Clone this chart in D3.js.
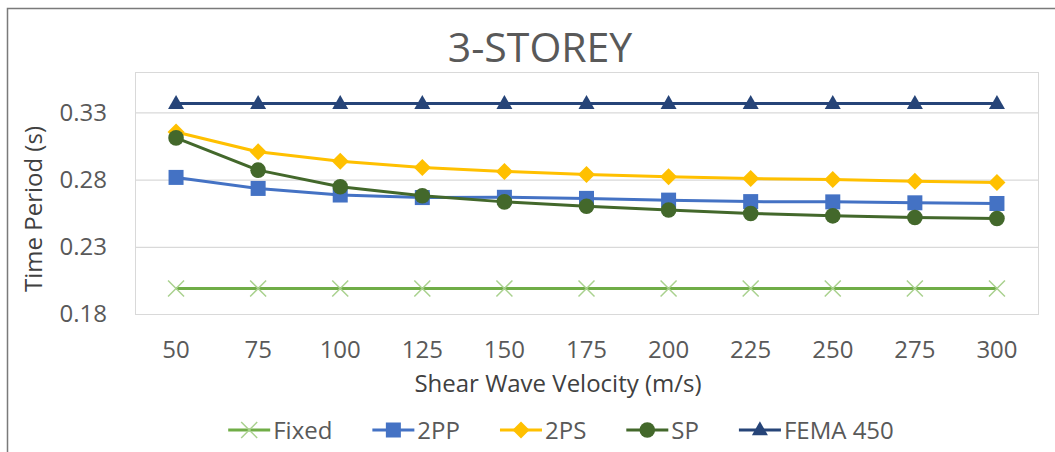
<!DOCTYPE html>
<html>
<head>
<meta charset="utf-8">
<script src="https://cdn.jsdelivr.net/npm/d3@7"></script>
<style>
  html, body { margin: 0; padding: 0; background: #fff; }
  svg { display: block; font-family: "Open Sans", sans-serif; }
</style>
</head>
<body>
<svg id="chart" width="1055" height="452"></svg>
<script>
// ---- data ----
const categories = ["50", "75", "100", "125", "150", "175", "200", "225", "250", "275", "300"];
const fixedVals = [0.199, 0.199, 0.199, 0.199, 0.199, 0.199, 0.199, 0.199, 0.199, 0.199, 0.199];
const pp2Vals   = [0.2816, 0.2734, 0.2685, 0.2666, 0.2668, 0.2660, 0.2647, 0.2636, 0.2634, 0.2627, 0.2622];
const ps2Vals   = [0.3154, 0.3006, 0.2937, 0.2890, 0.2860, 0.2838, 0.2820, 0.2808, 0.2800, 0.2788, 0.2778];
const spVals    = [0.3110, 0.2870, 0.2746, 0.2680, 0.2634, 0.2602, 0.2573, 0.2548, 0.2530, 0.2518, 0.2510];
const femaVals  = [0.3365, 0.3365, 0.3365, 0.3365, 0.3365, 0.3365, 0.3365, 0.3365, 0.3365, 0.3365, 0.3365];
const seriesNames = ["Fixed", "2PP", "2PS", "SP", "FEMA 450"];
const yTicks = [0.18, 0.23, 0.28, 0.33];
const title = "3-STOREY";
const xTitle = "Shear Wave Velocity (m/s)";
const yTitle = "Time Period (s)";

const series = [
  { name: seriesNames[0], values: fixedVals, color: "#70AD47", mcolor: "#A9D18E", marker: "x" },
  { name: seriesNames[1], values: pp2Vals,   color: "#4472C4", mcolor: "#4472C4", marker: "square" },
  { name: seriesNames[2], values: ps2Vals,   color: "#FFC000", mcolor: "#FFC000", marker: "diamond" },
  { name: seriesNames[3], values: spVals,    color: "#43682B", mcolor: "#43682B", marker: "circle" },
  { name: seriesNames[4], values: femaVals,  color: "#264478", mcolor: "#264478", marker: "triangle" }
];

// ---- layout ----
const svg = d3.select("#chart");
const plot = { left: 135, right: 1038, top: 72, bottom: 314 };
const textColor = "#595959";
const fs = 24;

svg.append("rect").attr("width", 1055).attr("height", 452).attr("fill", "#fff");
// outer chart border (only top/left visible in frame)
svg.append("rect").attr("x", 7.5).attr("y", 8.5).attr("width", 1060).attr("height", 460)
  .attr("fill", "none").attr("stroke", "#7a7a7a").attr("stroke-width", 1.5);

const x = d3.scaleBand().domain(categories).range([plot.left, plot.right]).padding(0);
const y = d3.scaleLinear().domain([0.18, 0.36]).range([plot.bottom, plot.top]);
const cx = c => x(c) + x.bandwidth() / 2;

// plot area border
svg.append("rect").attr("x", plot.left + 0.5).attr("y", plot.top + 0.5)
  .attr("width", plot.right - plot.left).attr("height", plot.bottom - plot.top)
  .attr("fill", "none").attr("stroke", "#d9d9d9").attr("stroke-width", 1);

// gridlines + y axis
const yAxis = d3.axisLeft(y).tickValues(yTicks).tickSize(-(plot.right - plot.left)).tickPadding(28)
  .tickFormat(d3.format(".2f"));
const gy = svg.append("g").attr("transform", `translate(${plot.left},0)`).call(yAxis);
gy.select(".domain").remove();
gy.selectAll(".tick line").attr("stroke", "#d9d9d9").attr("stroke-width", 1.2);
gy.selectAll(".tick text").attr("fill", textColor).attr("font-size", fs).attr("font-family", "Open Sans");

// x axis
const xAxis = d3.axisBottom(x).tickSize(0).tickPadding(27);
const gx = svg.append("g").attr("transform", `translate(0,${plot.bottom})`).call(xAxis);
gx.select(".domain").remove();
gx.selectAll(".tick text").attr("fill", textColor).attr("font-size", fs).attr("font-family", "Open Sans");

// titles
svg.append("text").attr("x", 540).attr("y", 62).attr("text-anchor", "middle")
  .attr("fill", textColor).attr("font-size", 41).text(title);
svg.append("text").attr("x", 558).attr("y", 392).attr("text-anchor", "middle")
  .attr("fill", "#404040").attr("font-size", fs).text(xTitle);
svg.append("text").attr("transform", "translate(42,209) rotate(-90)").attr("text-anchor", "middle")
  .attr("fill", "#404040").attr("font-size", fs).text(yTitle);

// markers
function drawMarker(g, type, px, py, color) {
  if (type === "x") {
    const r = 8;
    g.append("path").attr("d", `M${px - r},${py - r}L${px + r},${py + r}M${px - r},${py + r}L${px + r},${py - r}`)
      .attr("stroke", color).attr("stroke-width", 1.5).attr("fill", "none");
  } else if (type === "square") {
    const s = 15;
    g.append("rect").attr("x", px - s / 2).attr("y", py - s / 2).attr("width", s).attr("height", s).attr("fill", color);
  } else if (type === "diamond") {
    const r = 8.5;
    g.append("path").attr("d", `M${px},${py - r}L${px + r},${py}L${px},${py + r}L${px - r},${py}Z`).attr("fill", color);
  } else if (type === "circle") {
    g.append("circle").attr("cx", px).attr("cy", py).attr("r", 7.8).attr("fill", color);
  } else if (type === "triangle") {
    const w = 8, h = 14;
    g.append("path").attr("d", `M${px},${py - h * 0.62}L${px + w},${py + h * 0.38}L${px - w},${py + h * 0.38}Z`).attr("fill", color);
  }
}

const line = d3.line().x((d, i) => cx(categories[i])).y(d => y(d));
series.forEach(s => {
  const g = svg.append("g");
  g.append("path").datum(s.values).attr("d", line).attr("fill", "none")
    .attr("stroke", s.color).attr("stroke-width", 3).attr("stroke-linejoin", "round");
  s.values.forEach((v, i) => drawMarker(g, s.marker, cx(categories[i]), y(v), s.mcolor));
});

// legend
const legend = svg.append("g");
const ly = 430;
let lx = 0;
series.forEach(s => {
  const g = legend.append("g").attr("transform", `translate(${lx},0)`);
  g.append("line").attr("x1", 0).attr("x2", 42).attr("y1", ly).attr("y2", ly)
    .attr("stroke", s.color).attr("stroke-width", 3);
  drawMarker(g, s.marker, 21, ly, s.mcolor);
  const t = g.append("text").attr("x", 45).attr("y", ly + 8.5).attr("fill", textColor)
    .attr("font-size", fs).text(s.name);
  const w = t.node().getComputedTextLength();
  lx += 45 + w + 40;
});
const totalW = lx - 40;
legend.attr("transform", `translate(${561 - totalW / 2},0)`);
</script>
</body>
</html>
